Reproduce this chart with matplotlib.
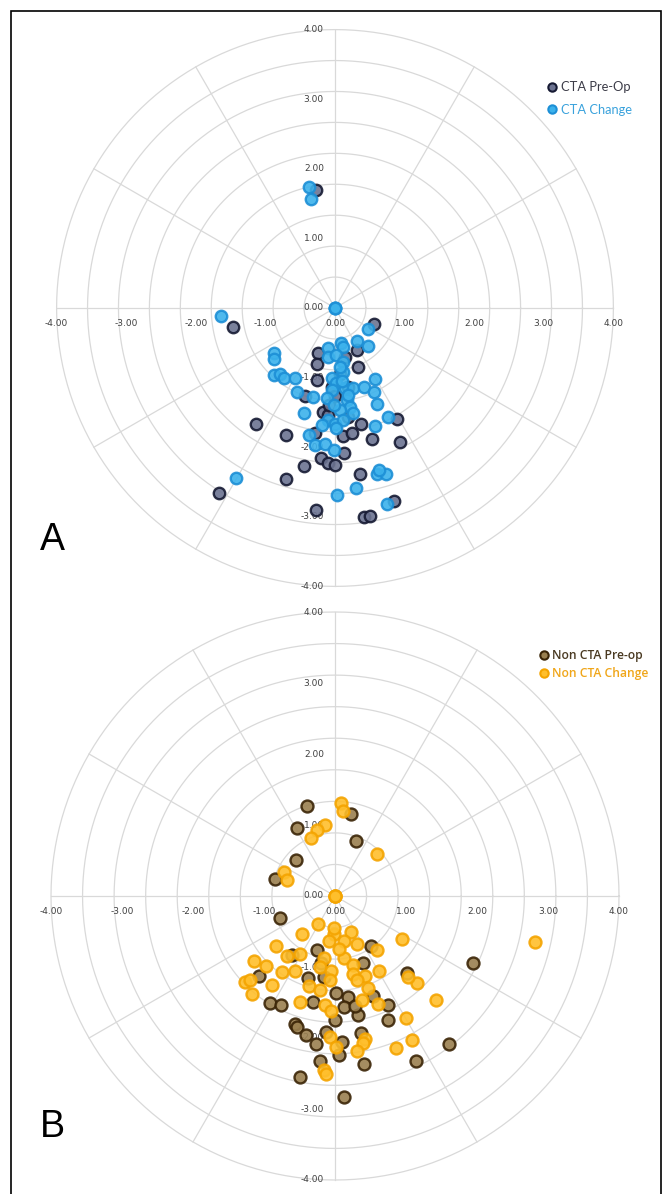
import matplotlib
matplotlib.use('Agg')
import matplotlib.pyplot as plt
from matplotlib.lines import Line2D
from matplotlib.patches import Rectangle
import numpy as np

# ---- data ----
tick_values = [-4, -3, -2, -1, 0, 1, 2, 3, 4]
tick_labels = ['-4.00', '-3.00', '-2.00', '-1.00', '0.00', '1.00', '2.00', '3.00', '4.00']

cta_preop_x = [-0.27, -1.46, 0.56, -0.24, 0.31, -0.26, 0.33, -0.26, -0.43, -0.05, 0.19, 0.00,
               -0.17, -0.10, -1.13, -0.71, -0.29, 0.12, 0.24, 0.37, 0.89, 0.53, 0.93, 0.13,
               -0.20, -0.10, 0.00, -0.44, 0.36, -0.71, -1.66, -0.27, 0.41, 0.51, 0.85, 0.19,
               0.07, -0.08, 0.15]
cta_preop_y = [1.69, -0.28, -0.23, -0.64, -0.60, -0.80, -0.85, -1.03, -1.27, -1.13, -1.13, -1.27,
               -1.49, -1.54, -1.66, -1.83, -1.80, -1.84, -1.79, -1.67, -1.59, -1.88, -1.93, -2.09,
               -2.16, -2.23, -2.26, -2.27, -2.39, -2.46, -2.66, -2.90, -3.01, -2.99, -2.78, -1.56,
               -0.95, -1.40, -0.70]

cta_change_x = [0.00, 0.00, 0.00, -0.38, -0.34, -1.64, 0.48, 0.32, 0.47, 0.09, 0.12, -0.10,
                -0.87, -0.88, -0.88, -0.79, -0.73, -0.57, -0.10, 0.02, 0.11, 0.12, -0.05, 0.02,
                -0.05, -0.12, 0.14, 0.26, 0.41, 0.58, 0.56, 0.60, -0.54, -0.31, -0.44, 0.17,
                0.22, 0.07, 0.26, -0.10, -0.19, 0.00, 0.12, 0.02, -0.37, -0.29, -0.15, -0.01,
                0.76, 0.57, 0.60, 0.73, 0.63, 0.30, 0.03, 0.74, -1.42, 0.07, 0.18, -0.02, 0.10]
cta_change_y = [0.00, 0.00, 0.00, 1.74, 1.56, -0.11, -0.30, -0.47, -0.54, -0.50, -0.56, -0.57,
                -0.64, -0.73, -0.96, -0.95, -1.00, -1.00, -0.70, -0.68, -0.77, -0.92, -1.01, -1.08,
                -1.18, -1.30, -1.15, -1.15, -1.14, -1.02, -1.21, -1.38, -1.20, -1.28, -1.51, -1.32,
                -1.42, -1.47, -1.51, -1.61, -1.68, -1.66, -1.61, -1.73, -1.82, -1.97, -1.96, -2.04,
                -1.57, -1.69, -2.38, -2.38, -2.33, -2.58, -2.68, -2.82, -2.44, -0.85, -1.25, -1.40, -1.05]

noncta_preop_x = [-0.39, 0.22, -0.53, 0.30, -0.55, -0.85, -0.78, 0.50, -0.61, -0.26, 0.39, -1.07,
                  -0.38, -0.16, 1.02, 1.95, 0.54, -0.31, -0.92, -0.76, 0.75, 0.02, 0.19, 0.12,
                  0.33, 0.00, 0.74, -0.56, -0.54, -0.41, -0.12, 0.37, -0.27, 0.10, 1.60, 0.05,
                  -0.21, 0.41, 1.14, -0.50, 0.13, -0.20, 0.28]
noncta_preop_y = [1.27, 1.16, 0.96, 0.78, 0.51, 0.24, -0.31, -0.71, -0.83, -0.76, -0.95, -1.12,
                  -1.15, -1.14, -1.08, -0.95, -1.41, -1.49, -1.51, -1.53, -1.53, -1.37, -1.42, -1.57,
                  -1.68, -1.75, -1.75, -1.80, -1.84, -1.96, -1.91, -1.93, -2.08, -2.05, -2.09, -2.24,
                  -2.32, -2.37, -2.33, -2.55, -2.83, -0.95, -1.55]

noncta_change_x = [0.00, 0.00, 0.00, 0.09, 0.11, -0.14, -0.26, -0.34, 0.59, -0.72, -0.68, -0.24,
                   -0.01, 0.22, -0.46, 0.95, -0.09, 0.12, 0.31, -0.83, 0.59, -0.50, -0.68, -0.15,
                   0.12, -1.14, -0.97, 0.26, -0.74, -0.56, -0.21, -0.05, 0.26, 0.62, 0.42, -1.27,
                   -1.20, -0.89, -0.36, -0.21, -0.07, 0.31, 0.47, 1.15, 1.03, -1.17, -0.49, -0.14,
                   0.38, 0.61, 1.42, -0.05, 1.00, -0.07, 0.42, 1.08, 0.02, 0.39, 0.31, 0.86,
                   -0.16, -0.13, 2.82, -0.02, 0.05]
noncta_change_y = [0.00, 0.00, 0.00, 1.31, 1.20, 1.00, 0.93, 0.82, 0.59, 0.34, 0.23, -0.40,
                   -0.53, -0.51, -0.54, -0.60, -0.63, -0.63, -0.68, -0.70, -0.76, -0.81, -0.84, -0.88,
                   -0.87, -0.92, -0.99, -0.97, -1.07, -1.06, -1.00, -1.05, -1.10, -1.05, -1.12, -1.21,
                   -1.18, -1.26, -1.27, -1.32, -1.18, -1.18, -1.29, -1.22, -1.14, -1.38, -1.49, -1.54,
                   -1.46, -1.52, -1.47, -1.62, -1.72, -1.98, -2.02, -2.03, -2.12, -2.07, -2.19, -2.14,
                   -2.45, -2.51, -0.65, -0.45, -0.75]

W, H = 663, 1194
GRID = '#d9d9d9'
TICK = '#404040'


def radar_grid(ax):
    t = np.linspace(0, 2 * np.pi, 361)
    for r in np.arange(1, 10) * 4.0 / 9:
        ax.plot(r * np.cos(t), r * np.sin(t), color=GRID, lw=0.9, zorder=0)
    for a in np.deg2rad(np.arange(0, 360, 30)):
        ax.plot([0, 4 * np.cos(a)], [0, 4 * np.sin(a)], color=GRID, lw=0.9, zorder=0)
    for v, lab in zip(tick_values, tick_labels):
        ax.annotate(lab, (v, 0), xytext=(0, -11), textcoords='offset points',
                    ha='center', va='center', fontsize=6.5, color=TICK)
        ax.annotate(lab, (0, v), xytext=(-8, 0), textcoords='offset points',
                    ha='right', va='center', fontsize=6.5, color=TICK)


def panel(fig, cx, cy, unit, top, bottom, s1, s2, leg, letter, letter_y):
    ax = fig.add_axes([20 / W, 1 - bottom / H, 630 / W, (bottom - top) / H])
    ax.set_xlim((20 - cx) / unit, (650 - cx) / unit)
    ax.set_ylim((cy - bottom) / unit, (cy - top) / unit)
    ax.axis('off')
    radar_grid(ax)
    ax.scatter(s1['x'], s1['y'], s=s1['s'], color=s1['face'], edgecolors=s1['edge'],
               linewidths=1.7, alpha=0.9, zorder=3)
    ax.scatter(s2['x'], s2['y'], s=s2['s'], color=s2['face'], edgecolors=s2['edge'],
               linewidths=1.7, alpha=0.9, zorder=4)
    handles = [Line2D([], [], ls='', marker='o', ms=6, mfc=s['face'], mec=s['edge'], mew=1.5)
               for s in (s1, s2)]
    ax.legend(handles, [s1['label'], s2['label']], loc='upper left',
              bbox_to_anchor=(leg['x'] / W, 1 - leg['y'] / H), bbox_transform=fig.transFigure,
              frameon=False, borderpad=0, handlelength=0.8, handletextpad=0.3,
              labelspacing=leg['spacing'], labelcolor=[s1['text'], s2['text']],
              prop={'family': leg['family'], 'size': leg['size'], 'weight': leg['weight']})
    fig.text(40 / W, 1 - letter_y / H, letter, fontsize=27, family='Liberation Sans',
             va='baseline', ha='left')
    return ax


def main():
    fig = plt.figure(figsize=(W / 100, H / 100), dpi=100)
    fig.patch.set_facecolor('white')

    pre_a = {'x': cta_preop_x, 'y': cta_preop_y, 's': 68, 'face': '#6c7391', 'edge': '#161a33',
             'label': 'CTA Pre-Op', 'text': '#3c3c48'}
    chg_a = {'x': cta_change_x, 'y': cta_change_y, 's': 68, 'face': '#3cb2ec', 'edge': '#1d8fd6',
             'label': 'CTA Change', 'text': '#3aa2dc'}
    panel(fig, 335, 308, 69.6, 15, 600, pre_a, chg_a,
          {'x': 540, 'y': 75, 'spacing': 0.8, 'weight': 'normal', 'size': 9.3, 'family': 'Lato'},
          'A', 550)

    pre_b = {'x': noncta_preop_x, 'y': noncta_preop_y, 's': 74, 'face': '#9a8050', 'edge': '#3a2406',
             'label': 'Non CTA Pre-op', 'text': '#4a3a22'}
    chg_b = {'x': noncta_change_x, 'y': noncta_change_y, 's': 74, 'face': '#ffbf2c', 'edge': '#f4a400',
             'label': 'Non CTA Change', 'text': '#f0a61a'}
    panel(fig, 335, 896, 71.0, 603, 1194, pre_b, chg_b,
          {'x': 533, 'y': 643, 'spacing': 0.45, 'weight': 'semibold', 'size': 8.7,
           'family': 'Open Sans'},
          'B', 1137)

    fig.patches.append(Rectangle((10.5 / W, -0.01), (661 - 10.5) / W, (H - 10.5) / H + 0.01,
                                 transform=fig.transFigure, fill=False, lw=1.2, ec='black'))
    fig.savefig('out.png', dpi=100)


main()
